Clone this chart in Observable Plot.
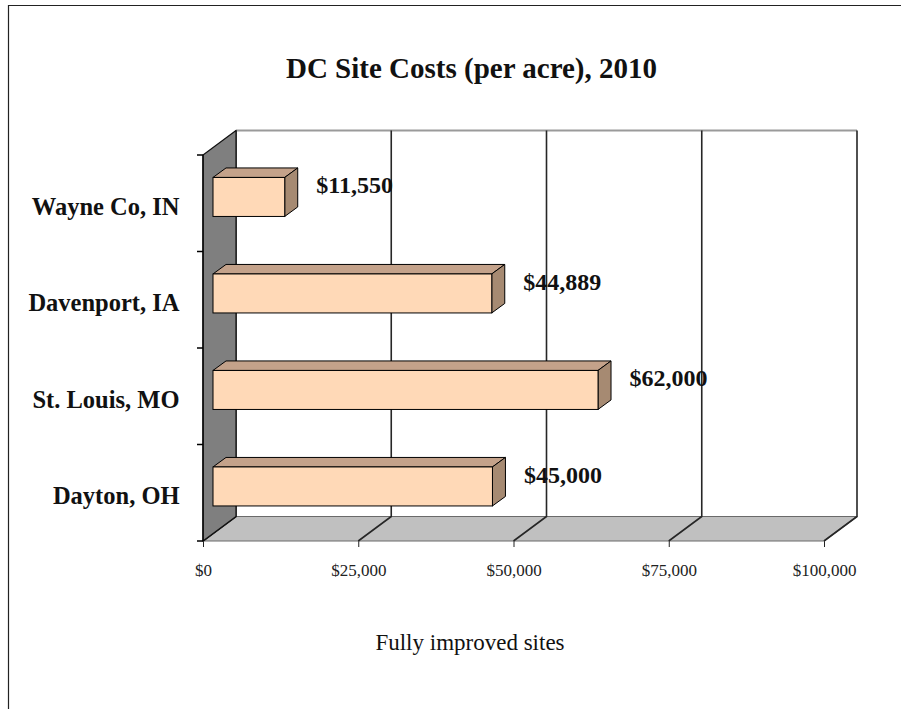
<!DOCTYPE html>
<html><head><meta charset="utf-8">
<script src="https://cdn.jsdelivr.net/npm/d3@7"></script>
<script src="https://cdn.jsdelivr.net/npm/@observablehq/plot@0.6"></script>
<style>
body{margin:0;background:#fff;}
svg{display:block;}
</style></head><body><div id="chart"></div>
<script>
const title = "DC Site Costs (per acre), 2010";
const axisTitle = "Fully improved sites";
const cities = ["Wayne Co, IN", "Davenport, IA", "St. Louis, MO", "Dayton, OH"];
const costs = [11550, 44889, 62000, 45000];
const xTicks = [0, 25000, 50000, 75000, 100000];

const data = cities.map((city, i) => ({city, cost: costs[i]}));
const money = d => "$" + d3.format(",")(d);

const SERIF = "'Liberation Serif', 'Times New Roman', serif";
const DX = 33, DY = -24.5;      // wall/floor depth
const BDX = 13, BDY = -9.5;     // bar depth
const BOX = 10, BOY = -6.3, INSET = 28.75;
const FRONT = "#FFD9B7", TOP = "#C4A28A", SIDE = "#A68A72";

function poly(g, pts, fill, stroke, sw) {
  g.append("path").attr("d", "M" + pts.map(p => p.join(",")).join("L") + "Z")
    .attr("fill", fill).attr("stroke", stroke).attr("stroke-width", sw).attr("stroke-linejoin", "round");
}

function border(index, scales, values, dim) {
  const g = d3.create("svg:g");
  g.append("path").attr("d", "M8.5,1000V5.5H1000").attr("fill", "none").attr("stroke", "#222").attr("stroke-width", 1.2);
  return g.node();
}

function walls(index, scales, values, dim) {
  const x = scales.x, y = scales.y;
  const X0 = x(0), X1 = x(xTicks[xTicks.length - 1]);
  const Yt = dim.marginTop, Yb = dim.height - dim.marginBottom;
  const g = d3.create("svg:g");
  g.append("rect").attr("x", X0 + DX).attr("y", Yt + DY).attr("width", X1 - X0).attr("height", Yb - Yt).attr("fill", "#fff");
  g.append("path").attr("d", `M${X0 + DX},${Yt + DY}H${X1 + DX}`).attr("stroke", "#9a9a9a").attr("stroke-width", 2).attr("fill", "none");
  poly(g, [[X0, Yb], [X0 + DX, Yb + DY], [X1 + DX, Yb + DY], [X1, Yb]], "#C0C0C0", "#6a6a6a", 1.2);
  for (const t of xTicks) {
    const xt = x(t);
    g.append("path").attr("d", `M${xt},${Yb}L${xt + DX},${Yb + DY}V${Yt + DY}`)
      .attr("fill", "none").attr("stroke", "#262626").attr("stroke-width", 1.6);
  }
  poly(g, [[X0, Yt], [X0 + DX, Yt + DY], [X0 + DX, Yb + DY], [X0, Yb]], "#7F7F7F", "#111", 1.2);
  let ax = `M${X0},${Yt}V${Yb}`;
  const bw = y.bandwidth();
  for (let i = 0; i <= cities.length; i++) {
    const yy = i < cities.length ? y(cities[i]) : y(cities[cities.length - 1]) + bw;
    ax += `M${X0 - 6},${yy}H${X0}`;
  }
  g.append("path").attr("d", ax).attr("fill", "none").attr("stroke", "#000").attr("stroke-width", 1.3);
  return g.node();
}

function barFaces(index, scales) {
  const x = scales.x, y = scales.y, bw = y.bandwidth();
  const g = d3.create("svg:g");
  for (const d of data) {
    const xa = x(0) + BOX, xb = x(d.cost) + BOX;
    const t = y(d.city) + INSET + BOY, b = y(d.city) + bw - INSET + BOY;
    poly(g, [[xa, t], [xa + BDX, t + BDY], [xb + BDX, t + BDY], [xb, t]], TOP, "#000", 1);
    poly(g, [[xb, t], [xb + BDX, t + BDY], [xb + BDX, b + BDY], [xb, b]], SIDE, "#000", 1);
  }
  return g.node();
}

const chart = Plot.plot({
  width: 901,
  height: 709,
  marginLeft: 203,
  marginRight: 77,
  marginTop: 155,
  marginBottom: 168,
  style: {fontFamily: SERIF, fontSize: "17px", color: "#222", background: "#fff", overflow: "visible"},
  x: {domain: [0, 100000], ticks: xTicks, tickFormat: money, tickSize: 6, tickPadding: 16, label: null},
  y: {domain: cities, padding: 0, round: false, axis: null},
  marks: [
    border,
    walls,
    barFaces,
    Plot.barX(data, {x1: 0, x2: "cost", y: "city", fill: FRONT, stroke: "#000", strokeWidth: 1,
      insetTop: INSET, insetBottom: INSET, dx: BOX, dy: BOY}),
    Plot.text(data, {x: "cost", y: "city", text: d => money(d.cost), textAnchor: "start", dx: 41, dy: -18,
      fontSize: 24, fontWeight: "bold", fill: "#111", fontFamily: SERIF}),
    Plot.text(data, {y: "city", text: "city", frameAnchor: "left", textAnchor: "end", dx: -24, dy: 3,
      fontSize: 24.5, fontWeight: "bold", fill: "#111", fontFamily: SERIF}),
    Plot.text([title], {text: d => d, frameAnchor: "top", lineAnchor: "middle", dx: -42.5, dy: -86.5,
      fontSize: 29, fontWeight: "bold", fill: "#111", fontFamily: SERIF}),
    Plot.text([axisTitle], {text: d => d, frameAnchor: "bottom", lineAnchor: "middle", dx: -44, dy: 101.6,
      fontSize: 23, fill: "#111", fontFamily: SERIF})
  ]
});
document.getElementById("chart").appendChild(chart);
</script></body></html>
